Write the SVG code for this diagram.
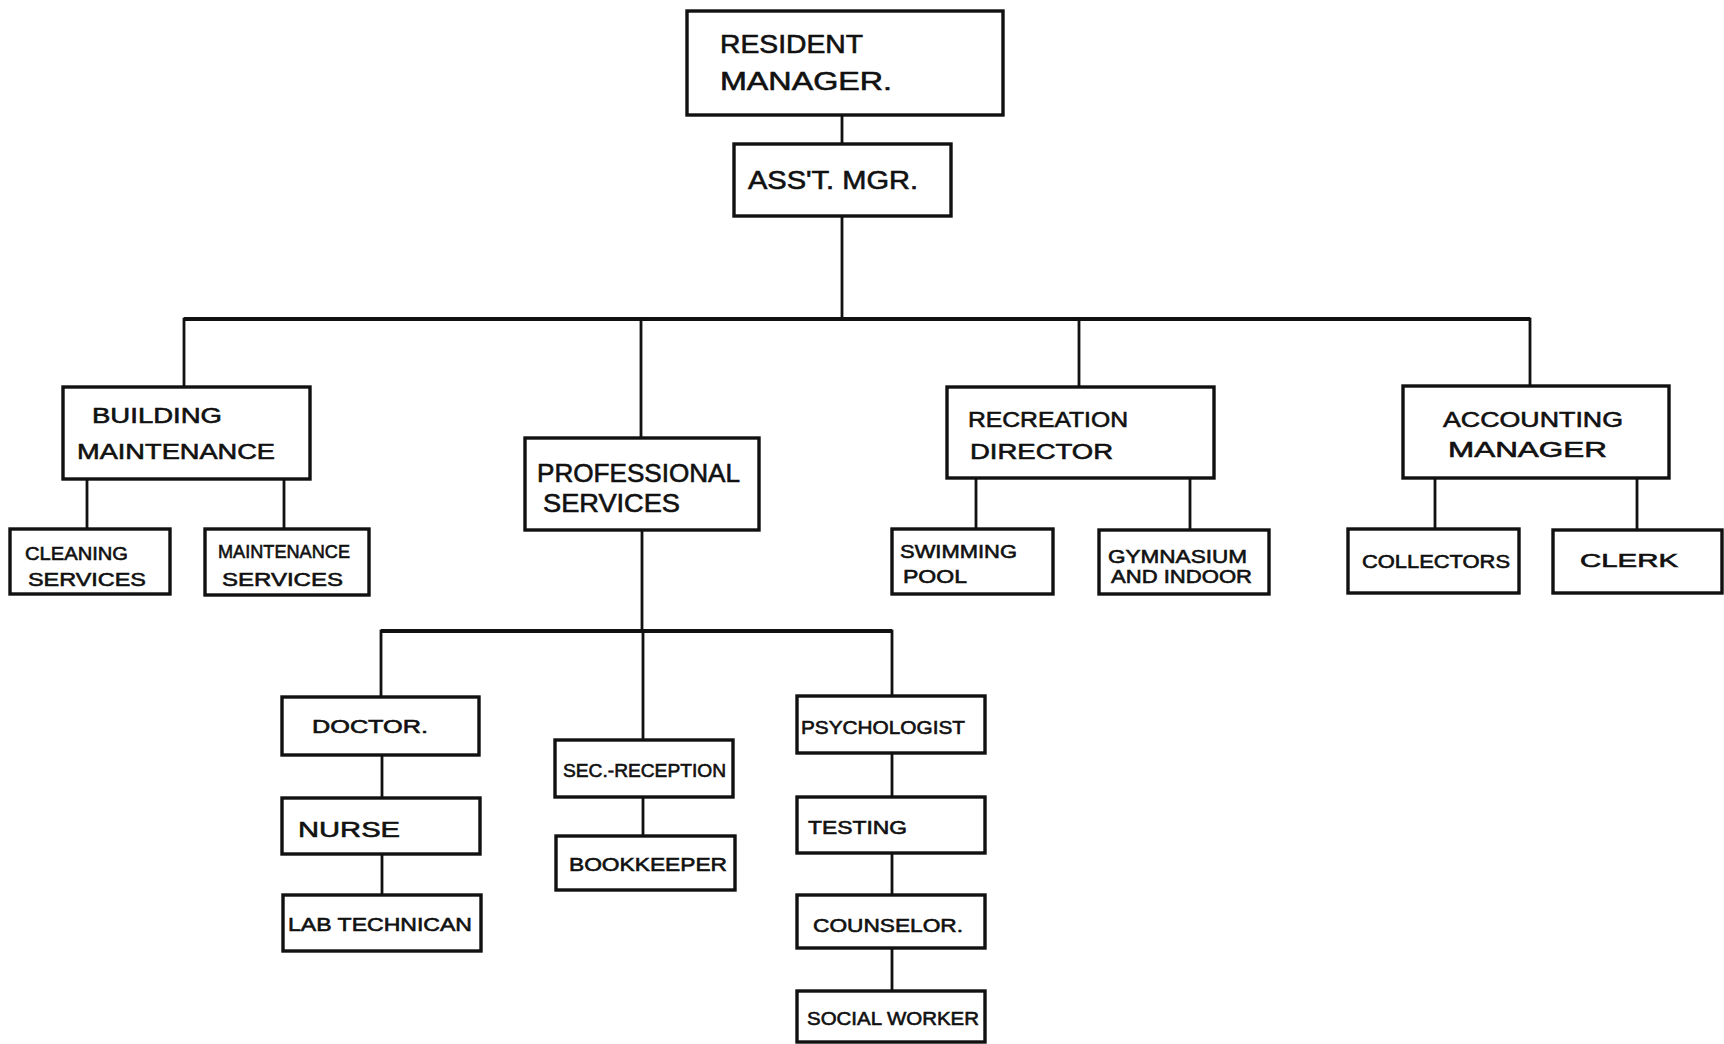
<svg xmlns="http://www.w3.org/2000/svg" width="1724" height="1044" viewBox="0 0 1724 1044">
  <style>
    .box { fill: #fff; stroke: #111; stroke-width: 3.4; }
    .wire { fill: none; stroke: #111; stroke-width: 2.8; stroke-linecap: square; }
    .bar { fill: none; stroke: #111; stroke-width: 3.8; }
    text { font-family: "Liberation Sans", Arial, sans-serif; fill: #111; stroke: #111; stroke-width: 0.6; }
    .l { font-size: 25px; }
    .m { font-size: 22px; }
    .s { font-size: 19px; }
  </style>
  <rect width="1724" height="1044" fill="#fff"/>

  <g id="connectors">
    <line class="wire" x1="842" y1="115" x2="842" y2="144"/>
    <line class="wire" x1="842" y1="216" x2="842" y2="319"/>
    <line class="bar" x1="184" y1="319" x2="1530" y2="319"/>
    <line class="wire" x1="184" y1="319" x2="184" y2="387"/>
    <line class="wire" x1="641" y1="319" x2="641" y2="438"/>
    <line class="wire" x1="1079" y1="319" x2="1079" y2="387"/>
    <line class="wire" x1="1530" y1="319" x2="1530" y2="386"/>
    <line class="wire" x1="87" y1="479" x2="87" y2="529"/>
    <line class="wire" x1="284" y1="479" x2="284" y2="529"/>
    <line class="wire" x1="976" y1="478" x2="976" y2="529"/>
    <line class="wire" x1="1190" y1="478" x2="1190" y2="530"/>
    <line class="wire" x1="1435" y1="478" x2="1435" y2="529"/>
    <line class="wire" x1="1637" y1="478" x2="1637" y2="530"/>
    <line class="wire" x1="642" y1="530" x2="642" y2="631"/>
    <line class="bar" x1="381" y1="631" x2="892" y2="631"/>
    <line class="wire" x1="381" y1="631" x2="381" y2="697"/>
    <line class="wire" x1="643" y1="631" x2="643" y2="740"/>
    <line class="wire" x1="892" y1="631" x2="892" y2="696"/>
    <line class="wire" x1="382" y1="755" x2="382" y2="798"/>
    <line class="wire" x1="382" y1="854" x2="382" y2="895"/>
    <line class="wire" x1="643" y1="797" x2="643" y2="836"/>
    <line class="wire" x1="892" y1="753" x2="892" y2="797"/>
    <line class="wire" x1="892" y1="853" x2="892" y2="895"/>
    <line class="wire" x1="892" y1="948" x2="892" y2="991"/>
  </g>

  <g id="resident-manager">
    <rect class="box" x="687" y="11" width="316" height="104"/>
    <text class="l" x="720" y="53" textLength="143" lengthAdjust="spacingAndGlyphs">RESIDENT</text>
    <text class="l" x="720" y="90" textLength="172" lengthAdjust="spacingAndGlyphs">MANAGER.</text>
  </g>
  <g id="asst-mgr">
    <rect class="box" x="734" y="144" width="217" height="72"/>
    <text class="l" x="748" y="189" textLength="170" lengthAdjust="spacingAndGlyphs">ASS'T. MGR.</text>
  </g>

  <g id="building-maintenance">
    <rect class="box" x="63" y="387" width="247" height="92"/>
    <text class="m" x="92" y="423" textLength="130" lengthAdjust="spacingAndGlyphs">BUILDING</text>
    <text class="m" x="77" y="459" textLength="198" lengthAdjust="spacingAndGlyphs">MAINTENANCE</text>
  </g>
  <g id="cleaning-services">
    <rect class="box" x="10" y="529" width="160" height="65"/>
    <text class="s" x="25" y="560" textLength="103" lengthAdjust="spacingAndGlyphs">CLEANING</text>
    <text class="s" x="28" y="586" textLength="118" lengthAdjust="spacingAndGlyphs">SERVICES</text>
  </g>
  <g id="maintenance-services">
    <rect class="box" x="205" y="529" width="164" height="66"/>
    <text class="s" x="218" y="558" textLength="132" lengthAdjust="spacingAndGlyphs">MAINTENANCE</text>
    <text class="s" x="222" y="586" textLength="121" lengthAdjust="spacingAndGlyphs">SERVICES</text>
  </g>

  <g id="professional-services">
    <rect class="box" x="525" y="438" width="234" height="92"/>
    <text class="l" x="537" y="482" textLength="203" lengthAdjust="spacingAndGlyphs">PROFESSIONAL</text>
    <text class="l" x="543" y="512" textLength="137" lengthAdjust="spacingAndGlyphs">SERVICES</text>
  </g>

  <g id="recreation-director">
    <rect class="box" x="947" y="387" width="267" height="91"/>
    <text class="m" x="968" y="427" textLength="160" lengthAdjust="spacingAndGlyphs">RECREATION</text>
    <text class="m" x="970" y="459" textLength="143" lengthAdjust="spacingAndGlyphs">DIRECTOR</text>
  </g>
  <g id="swimming-pool">
    <rect class="box" x="892" y="529" width="161" height="65"/>
    <text class="s" x="900" y="558" textLength="117" lengthAdjust="spacingAndGlyphs">SWIMMING</text>
    <text class="s" x="903" y="583" textLength="64" lengthAdjust="spacingAndGlyphs">POOL</text>
  </g>
  <g id="gymnasium">
    <rect class="box" x="1099" y="530" width="170" height="64"/>
    <text class="s" x="1108" y="563" textLength="139" lengthAdjust="spacingAndGlyphs">GYMNASIUM</text>
    <text class="s" x="1111" y="583" textLength="141" lengthAdjust="spacingAndGlyphs">AND INDOOR</text>
  </g>

  <g id="accounting-manager">
    <rect class="box" x="1403" y="386" width="266" height="92"/>
    <text class="m" x="1443" y="427" textLength="180" lengthAdjust="spacingAndGlyphs">ACCOUNTING</text>
    <text class="m" x="1448" y="457" textLength="159" lengthAdjust="spacingAndGlyphs">MANAGER</text>
  </g>
  <g id="collectors">
    <rect class="box" x="1348" y="529" width="171" height="64"/>
    <text class="s" x="1362" y="568" textLength="148" lengthAdjust="spacingAndGlyphs">COLLECTORS</text>
  </g>
  <g id="clerk">
    <rect class="box" x="1553" y="530" width="169" height="63"/>
    <text class="s" x="1580" y="567" textLength="98" lengthAdjust="spacingAndGlyphs">CLERK</text>
  </g>

  <g id="doctor">
    <rect class="box" x="282" y="697" width="197" height="58"/>
    <text class="s" x="312" y="733" textLength="116" lengthAdjust="spacingAndGlyphs">DOCTOR.</text>
  </g>
  <g id="nurse">
    <rect class="box" x="282" y="798" width="198" height="56"/>
    <text class="m" x="298" y="837" textLength="102" lengthAdjust="spacingAndGlyphs">NURSE</text>
  </g>
  <g id="lab-technican">
    <rect class="box" x="283" y="895" width="198" height="56"/>
    <text class="s" x="288" y="931" textLength="184" lengthAdjust="spacingAndGlyphs">LAB TECHNICAN</text>
  </g>

  <g id="sec-reception">
    <rect class="box" x="555" y="740" width="178" height="57"/>
    <text class="s" x="563" y="777" textLength="163" lengthAdjust="spacingAndGlyphs">SEC.-RECEPTION</text>
  </g>
  <g id="bookkeeper">
    <rect class="box" x="556" y="836" width="179" height="54"/>
    <text class="s" x="569" y="871" textLength="158" lengthAdjust="spacingAndGlyphs">BOOKKEEPER</text>
  </g>

  <g id="psychologist">
    <rect class="box" x="797" y="696" width="188" height="57"/>
    <text class="s" x="801" y="734" textLength="164" lengthAdjust="spacingAndGlyphs">PSYCHOLOGIST</text>
  </g>
  <g id="testing">
    <rect class="box" x="797" y="797" width="188" height="56"/>
    <text class="s" x="808" y="834" textLength="99" lengthAdjust="spacingAndGlyphs">TESTING</text>
  </g>
  <g id="counselor">
    <rect class="box" x="797" y="895" width="188" height="53"/>
    <text class="s" x="813" y="932" textLength="150" lengthAdjust="spacingAndGlyphs">COUNSELOR.</text>
  </g>
  <g id="social-worker">
    <rect class="box" x="797" y="991" width="188" height="51"/>
    <text class="s" x="807" y="1025" textLength="172" lengthAdjust="spacingAndGlyphs">SOCIAL WORKER</text>
  </g>
</svg>
